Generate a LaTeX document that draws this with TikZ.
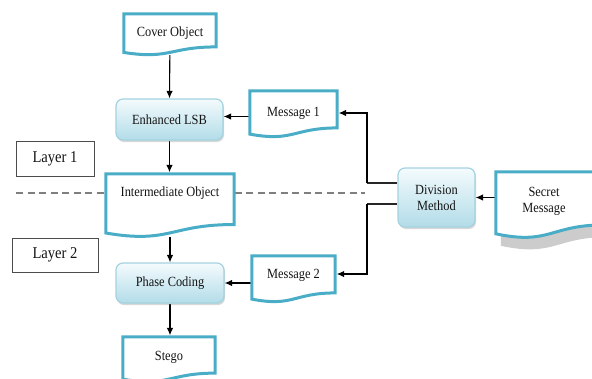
\documentclass[tikz,border=0pt]{standalone}
\usepackage{fontspec}
\setmainfont{Liberation Serif}[FakeStretch=0.885]
\usetikzlibrary{calc,shadows,arrows.meta,backgrounds}

\definecolor{docblue}{HTML}{4AADC7}
\definecolor{procedge}{HTML}{A3D3E0}
\definecolor{proctop}{HTML}{F4FBFD}
\definecolor{procbot}{HTML}{B2DCE8}
\definecolor{textc}{HTML}{141414}
\definecolor{dashc}{HTML}{7F7F7F}

\newcommand\txtfont{\fontsize{14}{17}\selectfont}
\newcommand\layerfont{\fontsize{16.5}{19}\selectfont}

% document symbol: flat top, wavy bottom, drawn around a named frame node
\newcommand\docoutline[2][]{%
  \draw[docline,#1] let \p1=(#2.north west), \p2=(#2.south east), \n1={\y1-\y2} in
    (\x1,\y1) -- (\x2,\y1) -- (\x2,{\y2+0.2*\n1})
    .. controls ({0.5*\x1+0.5*\x2},{\y2+0.2*\n1}) and ({0.5*\x1+0.5*\x2},{\y2-0.107*\n1})
    .. (\x1,{\y2+0.066*\n1}) -- cycle;}

\tikzset{
  frame/.style={draw=none, inner sep=0pt, rectangle},
  docline/.style={draw=docblue, line width=3pt, fill=white, line join=miter},
  txt/.style={font=\txtfont, text=textc, align=center, inner sep=0pt},
  proc/.style={rounded corners=7pt, draw=procedge, line width=1.2pt,
    top color=proctop, bottom color=procbot,
    drop shadow={shadow xshift=1pt, shadow yshift=-2pt, opacity=0.3},
    font=\txtfont, text=textc, align=center, inner sep=0pt},
  layerbox/.style={draw=black!70, line width=0.8pt, fill=white,
    font=\layerfont, text=textc, inner sep=0pt},
  arr/.style={draw=black, line width=1.1pt, -{Latex[length=7.5pt,width=6.5pt]}},
  wire/.style={draw=black!85, line width=1.1pt},
  dashline/.style={draw=dashc, line width=1.5pt, dash pattern=on 7pt off 4.5pt},
}

\begin{document}
\begin{tikzpicture}[x=1pt,y=-1pt]
\useasboundingbox (0,0) rectangle (592,378);
\clip (0,0) rectangle (592,378);
\begin{pgfonlayer}{background}
  \fill[white] (0,0) rectangle (592,378);
\end{pgfonlayer}

% layer labels
\node[layerbox, minimum width=78pt, minimum height=35pt] (layer1) at (55,158.5) {Layer 1};
\node[layerbox, minimum width=86pt, minimum height=34pt] (layer2) at (55,255) {Layer 2};

% processing steps
\node[proc, minimum width=107pt, minimum height=41pt] (lsb) at (169.5,119.5) {Enhanced LSB};
\node[proc, minimum width=108pt, minimum height=40pt] (phase) at (170,283) {Phase Coding};
\node[proc, minimum width=77pt, minimum height=59pt] (div) at (436.5,197.5) {Division\\[-1pt]Method};

% documents
\node[frame, minimum width=92pt, minimum height=41pt] (cover) at (170,34.5) {};
\docoutline{cover}
\node[txt] (cover-t) at (170,33) {Cover Object};

\node[frame, minimum width=87pt, minimum height=46pt] (msg1) at (293.5,114) {};
\docoutline{msg1}
\node[txt] (msg1-t) at (293.5,113) {Message 1};

\node[frame, minimum width=128pt, minimum height=63pt] (inter) at (170,205.5) {};
\docoutline{inter}
\node[txt] (inter-t) at (170,193) {Intermediate Object};

\node[frame, minimum width=83pt, minimum height=46pt] (msg2) at (293.5,279) {};
\docoutline{msg2}
\node[txt] (msg2-t) at (293.5,275) {Message 2};

\node[frame, minimum width=92pt, minimum height=45pt] (stego) at (169,359.5) {};
\docoutline{stego}
\node[txt] (stego-t) at (169,357) {Stego};

\node[frame, minimum width=108pt, minimum height=66pt] (secret) at (550,205) {};
\begin{scope}[transform canvas={xshift=5pt, yshift=-12pt}]
  \docoutline[fill=black!20, draw=none]{secret}
\end{scope}
\docoutline{secret}
\node[txt] (secret-t) at (544,201) {Secret\\[-1pt]Message};

% connectors
\coordinate (bus) at (367,0);
\coordinate (d1) at ([yshift=14.5pt]div.west);
\coordinate (d2) at ([yshift=-6.5pt]div.west);
\coordinate (m1in) at ([yshift=1pt]msg1.east);
\coordinate (m2in) at ([yshift=5pt]msg2.east);
\coordinate (dashL) at (16,193);
\coordinate (dashR) at (365,193);

\begin{pgfonlayer}{background}
  \draw[dashline] (dashL) -- (dashR);
  \draw[arr] (cover) -- (lsb.north);
  \draw[arr, shorten >=1.5pt] (lsb) -- (lsb |- inter.north);
  \draw[arr] (inter) -- (inter |- phase.north);
  \draw[arr, shorten >=1.5pt] (phase) -- (phase |- stego.north);
  \draw[arr] ([yshift=-2.5pt]msg1.west) -- ([yshift=-2.5pt]msg1.west -| lsb.east);
  \draw[arr] (msg2 |- phase) -- (phase.east);
  \draw[arr] (secret |- div) -- (div.east);
  \draw[wire] (d1) -- (d1 -| bus);
  \draw[arr, shorten >=1.5pt] (d1 -| bus) |- (m1in);
  \draw[wire] (d2) -- (d2 -| bus);
  \draw[arr, shorten >=1.5pt] (d2 -| bus) |- (m2in);
\end{pgfonlayer}
\end{tikzpicture}
\end{document}
